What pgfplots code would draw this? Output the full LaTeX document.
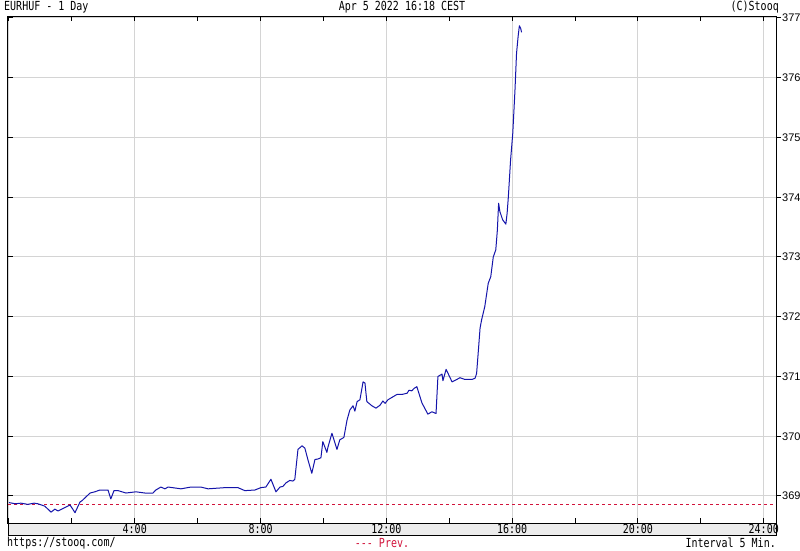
\documentclass[border=0pt]{standalone}
\usepackage{fontspec}
\setmonofont{DejaVu Sans Mono}
\setsansfont{Liberation Sans}
\usepackage{graphicx}
\usepackage{pgfplots}
\pgfplotsset{compat=1.18}
\definecolor{lineblue}{RGB}{20,20,170}
\definecolor{prevred}{RGB}{210,20,60}
\definecolor{gridgray}{RGB}{212,212,212}
\definecolor{stripgray}{RGB}{236,236,236}
\newcommand{\mt}[1]{\scalebox{1}[1.25]{\ttfamily\fontsize{10}{12}\selectfont #1}}
\pgfplotstableread{
h v
0 368.89
0.20 368.87
0.38 368.88
0.60 368.86
0.80 368.88
0.92 368.87
1.14 368.83
1.34 368.73
1.46 368.78
1.56 368.75
1.72 368.79
1.94 368.85
2.03 368.78
2.10 368.72
2.26 368.90
2.32 368.92
2.58 369.05
2.73 369.07
2.89 369.10
3.15 369.10
3.24 368.95
3.34 369.09
3.47 369.09
3.72 369.05
4.04 369.07
4.32 369.05
4.58 369.05
4.67 369.10
4.83 369.15
4.96 369.12
5.06 369.15
5.47 369.12
5.79 369.15
6.10 369.15
6.33 369.12
6.87 369.14
7.28 369.14
7.50 369.09
7.82 369.10
8.01 369.14
8.17 369.15
8.33 369.28
8.49 369.07
8.62 369.15
8.71 369.16
8.81 369.22
8.93 369.26
9.03 369.25
9.09 369.28
9.19 369.78
9.32 369.84
9.41 369.80
9.51 369.60
9.63 369.38
9.73 369.61
9.83 369.62
9.92 369.64
9.98 369.91
10.11 369.73
10.14 369.81
10.27 370.05
10.43 369.78
10.52 369.94
10.65 369.98
10.75 370.27
10.84 370.44
10.94 370.51
11.00 370.42
11.07 370.58
11.16 370.61
11.26 370.91
11.32 370.89
11.38 370.58
11.54 370.51
11.67 370.47
11.80 370.52
11.89 370.59
11.96 370.55
12.05 370.61
12.21 370.66
12.34 370.70
12.50 370.70
12.66 370.72
12.72 370.77
12.81 370.76
12.88 370.80
12.97 370.83
13.13 370.56
13.32 370.37
13.45 370.41
13.58 370.38
13.64 371.00
13.77 371.04
13.80 370.93
13.90 371.12
14.09 370.91
14.24 370.95
14.34 370.98
14.50 370.95
14.72 370.95
14.82 370.97
14.87 371.05
14.92 371.39
14.98 371.81
15.03 371.95
15.13 372.17
15.24 372.56
15.32 372.67
15.40 373.00
15.48 373.12
15.53 373.45
15.57 373.90
15.61 373.76
15.70 373.62
15.80 373.55
15.84 373.73
15.88 374.01
15.95 374.62
16.02 375.07
16.09 375.79
16.14 376.41
16.19 376.69
16.23 376.87
16.27 376.83
16.30 376.76
}\eurhuf
\begin{document}
\begin{tikzpicture}[x=1pt,y=1pt]
\useasboundingbox (0,0) rectangle (800,550);
\fill[white] (0,0) rectangle (800,550);
\fill[stripgray] (8,15) rectangle (776,27);
\draw[black, line width=1pt] (8,27) -- (8,15) -- (776,15) -- (776,27);
\begin{axis}[
  at={(8pt,27pt)}, anchor=south west,
  scale only axis, width=768pt, height=507pt,
  xmin=-0.03, xmax=24.39, ymin=368.548, ymax=377.033,
  axis line style={black, line width=1pt},
  tick align=inside,
  xtick={0,4,...,24},
  xticklabels={,\mt{4:00},\mt{8:00},\mt{12:00},\mt{16:00},\mt{20:00},\mt{24:00}},
  minor xtick={2,6,...,22},
  xtick pos=both,
  major tick length=5pt, minor tick length=5pt,
  tick style={black, line width=1pt},
  xmajorgrids, ymajorgrids,
  major grid style={gridgray, line width=1pt},
  xticklabel style={inner sep=0pt, anchor=north, yshift=-1pt},
  ytick={369,370,...,377},
  yticklabels={},
  ytick pos=left,
  extra y ticks={369,370,371,372,373,374,375,376,377},
  extra y tick labels={369,370,371,372,373,374,375,376,377},
  extra y tick style={yticklabel pos=right, ytick pos=right, tick align=outside, major grid style={draw=none},
     yticklabel style={font=\sffamily\fontsize{11}{12}\selectfont, inner sep=1pt, anchor=west}},
]
\addplot[prevred, line width=1pt, dash pattern=on 3pt off 3pt] coordinates {(-0.03,368.86) (24.39,368.86)};
\addplot[lineblue, line width=1pt, line join=round] table[x=h, y=v] {\eurhuf};
\end{axis}
\node[anchor=west, inner sep=0pt] at (4,543) {\mt{EURHUF - 1 Day}};
\node[inner sep=0pt] at (402,543) {\mt{Apr 5 2022 16:18 CEST}};
\node[anchor=east, inner sep=0pt] at (779,543) {\mt{(C)Stooq}};
\node[anchor=west, inner sep=0pt] at (7,7) {\mt{https://stooq.com/}};
\node[inner sep=0pt] at (382,7) {\mt{\color{prevred}-{}-{}- Prev.}};
\node[anchor=east, inner sep=0pt] at (776,7) {\mt{Interval 5 Min.}};
\end{tikzpicture}
\end{document}
